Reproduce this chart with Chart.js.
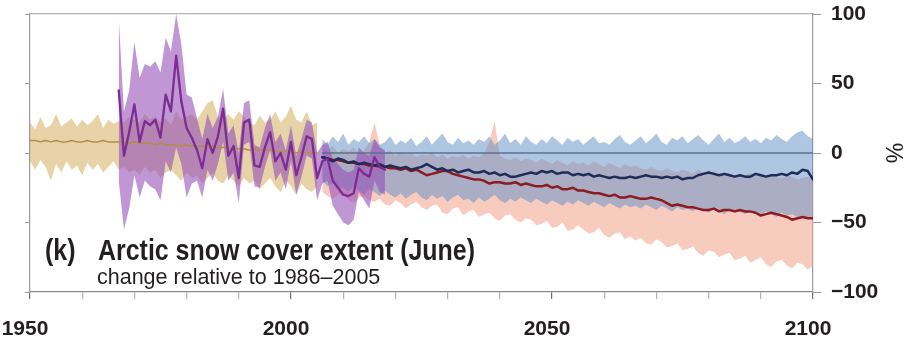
<!DOCTYPE html>
<html>
<head>
<meta charset="utf-8">
<script src="https://cdn.jsdelivr.net/npm/chart.js@4/dist/chart.umd.min.js"></script>
<style>
  html, body { margin: 0; padding: 0; background: #ffffff; }
  #wrap { width: 908px; height: 343px; }
</style>
</head>
<body>
<div id="wrap"><canvas id="c" width="908" height="343"></canvas></div>
<script>
// Arctic snow cover extent (June), % change relative to 1986–2005

// x-axis and y-axis ticks
const xTickYears = [1950, 2000, 2050, 2100];
const yTickValues = [-100, -50, 0, 50, 100];

// Historical model simulations, 1950–2005
const histStart = 1950;
const histMean = [
  9, 9, 8, 9, 8, 9, 8, 8, 9, 8, 8, 9, 8, 8, 9, 8, 8, 8,
  8, 7, 8, 7, 7, 7, 6, 7, 6, 6, 6, 5, 6, 5, 5, 5, 4, 5, 4, 4,
  4, 3, 3, 3, 2, 3, 2, 2, 2, 1, 1, 1, 1, 0, 1, 0, 0, 0
];
const histUpper = [
  22, 17, 26, 18, 20, 28, 19, 22, 25, 19, 24, 20, 23, 28, 18, 24, 21, 23,
  22, 26, 24, 22, 28, 24, 26, 22, 25, 20, 30, 24, 26, 28, 24, 30, 36, 38, 26, 24,
  28, 24, 30, 26, 22, 20, 27, 22, 24, 30, 22, 26, 34, 24, 22, 30, 20, 22
];
const histLower = [
  -6, -12, -5, -10, -20, -8, -14, -6, -12, -9, -16, -7, -12, -8, -14, -10, -6, -12,
  -10, -14, -12, -16, -10, -14, -12, -18, -14, -12, -16, -20, -14, -18, -16, -22, -18, -14, -20, -22,
  -16, -20, -24, -18, -22, -20, -26, -22, -18, -24, -28, -20, -24, -30, -22, -26, -28, -24
];

// Observations, 1967–2018
const obsStart = 1967;
const obsMean = [
  45, -2, 15, 35, 8, 23, 20, 24, 11, 42, 30, 70, 37, 18, 11, 2, -11, 10, 0, 12,
  32, -2, 5, -18, 22, 24, -9, -10, 4, 15, -6, 0, -12, 8, -16, -3, 12, 10, -18, -6,
  -4, -20, -25, -30, -31, -29, -11, -15, -17, -3, -10, -12
];
const obsUpper = [
  97, 30, 45, 80, 54, 64, 62, 66, 58, 83, 73, 100, 78, 42, 40, 25, 10, 28, 18, 26,
  46, 14, 20, 0, 36, 38, 6, 4, 18, 28, 8, 14, 2, 20, -2, 10, 24, 22, 0, 6,
  8, -4, -8, -12, -14, -12, 4, 0, -2, 10, 4, 2
];
const obsLower = [
  -20, -55, -40, -16, -32, -20, -24, -26, -34, -6, -14, 4, -8, -32, -22, -20, -32, -12, -20, -8,
  8, -20, -14, -36, 6, 8, -24, -25, -10, 2, -20, -14, -26, -6, -30, -17, -2, -4, -34, -22,
  -20, -38, -44, -50, -52, -48, -28, -34, -40, -20, -28, -30
];

// Projections, 2006–2100
const projStart = 2006;
const rcp26Mean = [
  -3, -4, -6, -4, -5, -7, -6, -8, -7, -8,
  -9, -8, -10, -9, -10, -11, -10, -12, -11, -10,
  -8, -10, -12, -11, -13, -12, -14, -13, -12, -14,
  -14, -13, -15, -14, -16, -15, -17, -17, -16, -15,
  -14, -15, -13, -14, -13, -15, -14, -14, -16, -15,
  -16, -15, -17, -16, -17, -18, -17, -18, -18, -17,
  -18, -17, -16, -17, -17, -18, -17, -18, -17, -19,
  -18, -18, -16, -15, -14, -15, -16, -15, -16, -17,
  -16, -17, -17, -15, -16, -17, -16, -16, -15, -16,
  -14, -15, -12, -13, -19
];
const rcp26Upper = [
  10, 6, 12, 8, 14, 6, 10, 8, 12, 7,
  10, 6, 8, 12, 6, 9, 7, 11, 5, 8,
  12, 6, 10, 14, 8, 6, 11, 7, 9, 6,
  10, 8, 12, 6, 9, 14, 7, 10, 6, 12,
  8, 6, 10, 7, 12, 9, 6, 11, 8, 10,
  6, 9, 12, 7, 8, 6, 10, 13, 8, 6,
  9, 12, 7, 10, 14, 8, 6, 11, 9, 12,
  7, 10, 13, 9, 6, 10, 14, 8, 11, 7,
  9, 12, 8, 10, 7, 11, 9, 13, 10, 8,
  12, 15, 16, 12, 10
];
const rcp26Lower = [
  -20, -24, -22, -26, -25, -28, -24, -27, -30, -26,
  -28, -31, -27, -30, -32, -29, -33, -30, -28, -32,
  -34, -30, -33, -31, -35, -32, -30, -34, -33, -36,
  -32, -35, -33, -30, -34, -36, -33, -35, -32, -34,
  -36, -33, -35, -37, -34, -36, -38, -35, -37, -34,
  -36, -38, -35, -37, -39, -36, -38, -40, -37, -39,
  -38, -40, -37, -39, -41, -38, -40, -42, -39, -41,
  -40, -42, -39, -41, -43, -40, -42, -44, -41, -43,
  -42, -44, -41, -43, -45, -42, -44, -46, -43, -45,
  -44, -46, -45, -47, -46
];
const rcp85Mean = [
  -3, -4, -5, -5, -6, -7, -7, -8, -8, -9,
  -9, -10, -10, -11, -11, -12, -11, -13, -12, -14,
  -16, -15, -14, -13, -13, -15, -16, -17, -18, -19,
  -19, -20, -22, -21, -21, -22, -22, -21, -23, -22,
  -23, -24, -24, -23, -25, -24, -26, -26, -25, -27,
  -27, -28, -29, -29, -30, -31, -30, -32, -32, -31,
  -32, -33, -33, -32, -33, -34, -36, -38, -37, -38,
  -39, -39, -40, -41, -41, -40, -42, -41, -41, -42,
  -41, -42, -42, -43, -45, -44, -43, -44, -45, -46,
  -48, -47, -46, -47, -47
];
const rcp85Upper = [
  4, 2, 5, 0, 3, 1, 4, -1, 2, 8,
  22, 6, 0, 2, -2, 1, -1, 0, -3, -1,
  -2, 0, -3, -1, -4, -2, -3, -1, -4, -2,
  -3, 0, 8, 23, -2, -4, -5, -3, -6, -4,
  -5, -7, -4, -6, -8, -5, -7, -9, -6, -8,
  -7, -9, -6, -8, -10, -7, -9, -11, -8, -10,
  -9, -11, -12, -10, -12, -13, -11, -13, -14, -12,
  -13, -15, -12, -14, -15, -13, -16, -14, -15, -17,
  -15, -16, -14, -17, -16, -18, -15, -17, -18, -16,
  -17, -19, -18, -17, -18
];
const rcp85Lower = [
  -28, -31, -33, -30, -29, -34, -36, -32, -31, -34,
  -35, -33, -37, -38, -34, -36, -40, -37, -35, -39,
  -41, -38, -37, -43, -44, -40, -39, -45, -42, -41,
  -46, -44, -43, -47, -49, -45, -44, -48, -50, -47,
  -48, -52, -51, -49, -54, -53, -50, -56, -55, -52,
  -55, -58, -57, -54, -59, -61, -58, -57, -62, -60,
  -63, -61, -65, -66, -62, -64, -68, -67, -65, -70,
  -69, -67, -72, -74, -70, -71, -75, -73, -72, -77,
  -76, -74, -79, -77, -75, -80, -82, -78, -77, -81,
  -83, -79, -80, -84, -81
];

// Reference level drawn across the projection period
const baselineYears = [2006, 2100];
const baselineValue = 0;

const series = (start, values) => values.map((v, i) => ({ x: start + i, y: v }));

const band = (label, start, upper, lower, color, order) => [
  { label: label + ' upper', data: series(start, upper), borderWidth: 0, pointRadius: 0,
    backgroundColor: color, fill: '+1', order: order },
  { label: label + ' lower', data: series(start, lower), borderWidth: 0, pointRadius: 0,
    backgroundColor: 'rgba(0,0,0,0)', fill: false, order: order }
];

const line = (label, data, color, width, order) => ({
  label: label, data: data, borderColor: color, borderWidth: width, pointRadius: 0,
  fill: false, order: order, borderJoinStyle: 'round', borderCapStyle: 'round'
});

const datasets = [
  ...band('RCP8.5 range', projStart, rcp85Upper, rcp85Lower, 'rgba(242,160,138,0.55)', 10),
  ...band('RCP2.6 range', projStart, rcp26Upper, rcp26Lower, 'rgba(100,145,200,0.52)', 9),
  ...band('Historical range', histStart, histUpper, histLower, 'rgba(214,180,104,0.58)', 8),
  ...band('Observed range', obsStart, obsUpper, obsLower, 'rgba(150,80,185,0.6)', 7),
  line('Zero', baselineYears.map(x => ({ x: x, y: baselineValue })), '#5d7190', 1.3, 6),
  line('Historical', series(histStart, histMean), '#b48c4c', 1.5, 5),
  line('RCP8.5', series(projStart, rcp85Mean), '#8c1c22', 2.5, 4),
  line('RCP2.6', series(projStart, rcp26Mean), '#1f2c58', 2.5, 3),
  line('Observed', series(obsStart, obsMean), '#7c2c92', 2.3, 2)
];

const textColor = '#231f20';
const axisGrey = '#9b9b9b';
const sans = '"Liberation Sans", Arial, sans-serif';

// Panel title (condensed bold) and subtitle, placed inside the plotting area
const panelText = {
  id: 'panelText',
  afterDatasetsDraw(chart) {
    const { ctx, chartArea } = chart;
    const squeeze = 0.86;
    const baseline = chartArea.bottom - 32;
    ctx.save();
    ctx.fillStyle = textColor;
    ctx.textBaseline = 'alphabetic';
    ctx.font = 'bold 29px ' + sans;
    ctx.save();
    ctx.translate(chartArea.left + 15, baseline);
    ctx.scale(squeeze, 1);
    ctx.fillText('(k)', 0, 0);
    ctx.restore();
    ctx.save();
    ctx.translate(chartArea.left + 68, baseline);
    ctx.scale(squeeze, 1);
    ctx.fillText('Arctic snow cover extent (June)', 0, 0);
    ctx.restore();
    ctx.font = '21.5px ' + sans;
    ctx.fillText('change relative to 1986\u20132005', chartArea.left + 67, chartArea.bottom - 8);
    ctx.restore();
  }
};

const fmt = v => (v < 0 ? '\u2212' + Math.abs(v) : String(v));

new Chart(document.getElementById('c'), {
  type: 'line',
  data: { datasets: datasets },
  options: {
    responsive: false,
    animation: false,
    events: [],
    elements: { line: { tension: 0 } },
    layout: { padding: 0 },
    plugins: { legend: { display: false }, tooltip: { enabled: false }, title: { display: false } },
    scales: {
      x: {
        type: 'linear', position: 'bottom', min: 1950, max: 2100,
        grid: {
          drawOnChartArea: false, tickLength: 7, lineWidth: 1.2,
          color: c => (xTickYears.includes(c.tick && c.tick.value) ? '#6f6f6f' : '#b3b3b3')
        },
        border: { color: '#8a8a8a', width: 1.2 },
        ticks: {
          stepSize: 10, autoSkip: false, maxRotation: 0, padding: 18, labelOffset: -5,
          color: textColor, font: { family: sans, weight: 'bold', size: 21 },
          callback: v => (xTickYears.includes(v) ? String(v) : '')
        },
        afterFit: s => { s.height = 51; s.paddingLeft = 0; s.paddingRight = 0; }
      },
      xTop: {
        type: 'linear', position: 'top', min: 1950, max: 2100,
        grid: { display: false },
        border: { color: '#b5b5b5', width: 1.2 },
        ticks: { display: false },
        afterFit: s => { s.height = 14; s.paddingLeft = 0; s.paddingRight = 0; }
      },
      y: {
        type: 'linear', position: 'right', min: -100, max: 100,
        grid: { drawOnChartArea: false, color: axisGrey, tickLength: 8 },
        border: { color: axisGrey, width: 1.2 },
        afterBuildTicks: s => { s.ticks = yTickValues.map(v => ({ value: v })); },
        ticks: {
          padding: 10, color: textColor, font: { family: sans, weight: 'bold', size: 21 },
          callback: v => fmt(v)
        },
        title: { display: true, text: '%', color: textColor, padding: { top: 2, bottom: 4 },
          font: { family: sans, size: 23 } },
        afterFit: s => { s.width = 95; s.paddingTop = 0; s.paddingBottom = 0; }
      },
      yLeft: {
        type: 'linear', position: 'left', min: -100, max: 100,
        grid: { drawOnChartArea: false, color: axisGrey, tickLength: 5 },
        border: { color: axisGrey, width: 1.2 },
        afterBuildTicks: s => { s.ticks = yTickValues.map(v => ({ value: v })); },
        ticks: { display: false },
        afterFit: s => { s.width = 30; }
      }
    }
  },
  plugins: [panelText]
});
</script>
</body>
</html>
